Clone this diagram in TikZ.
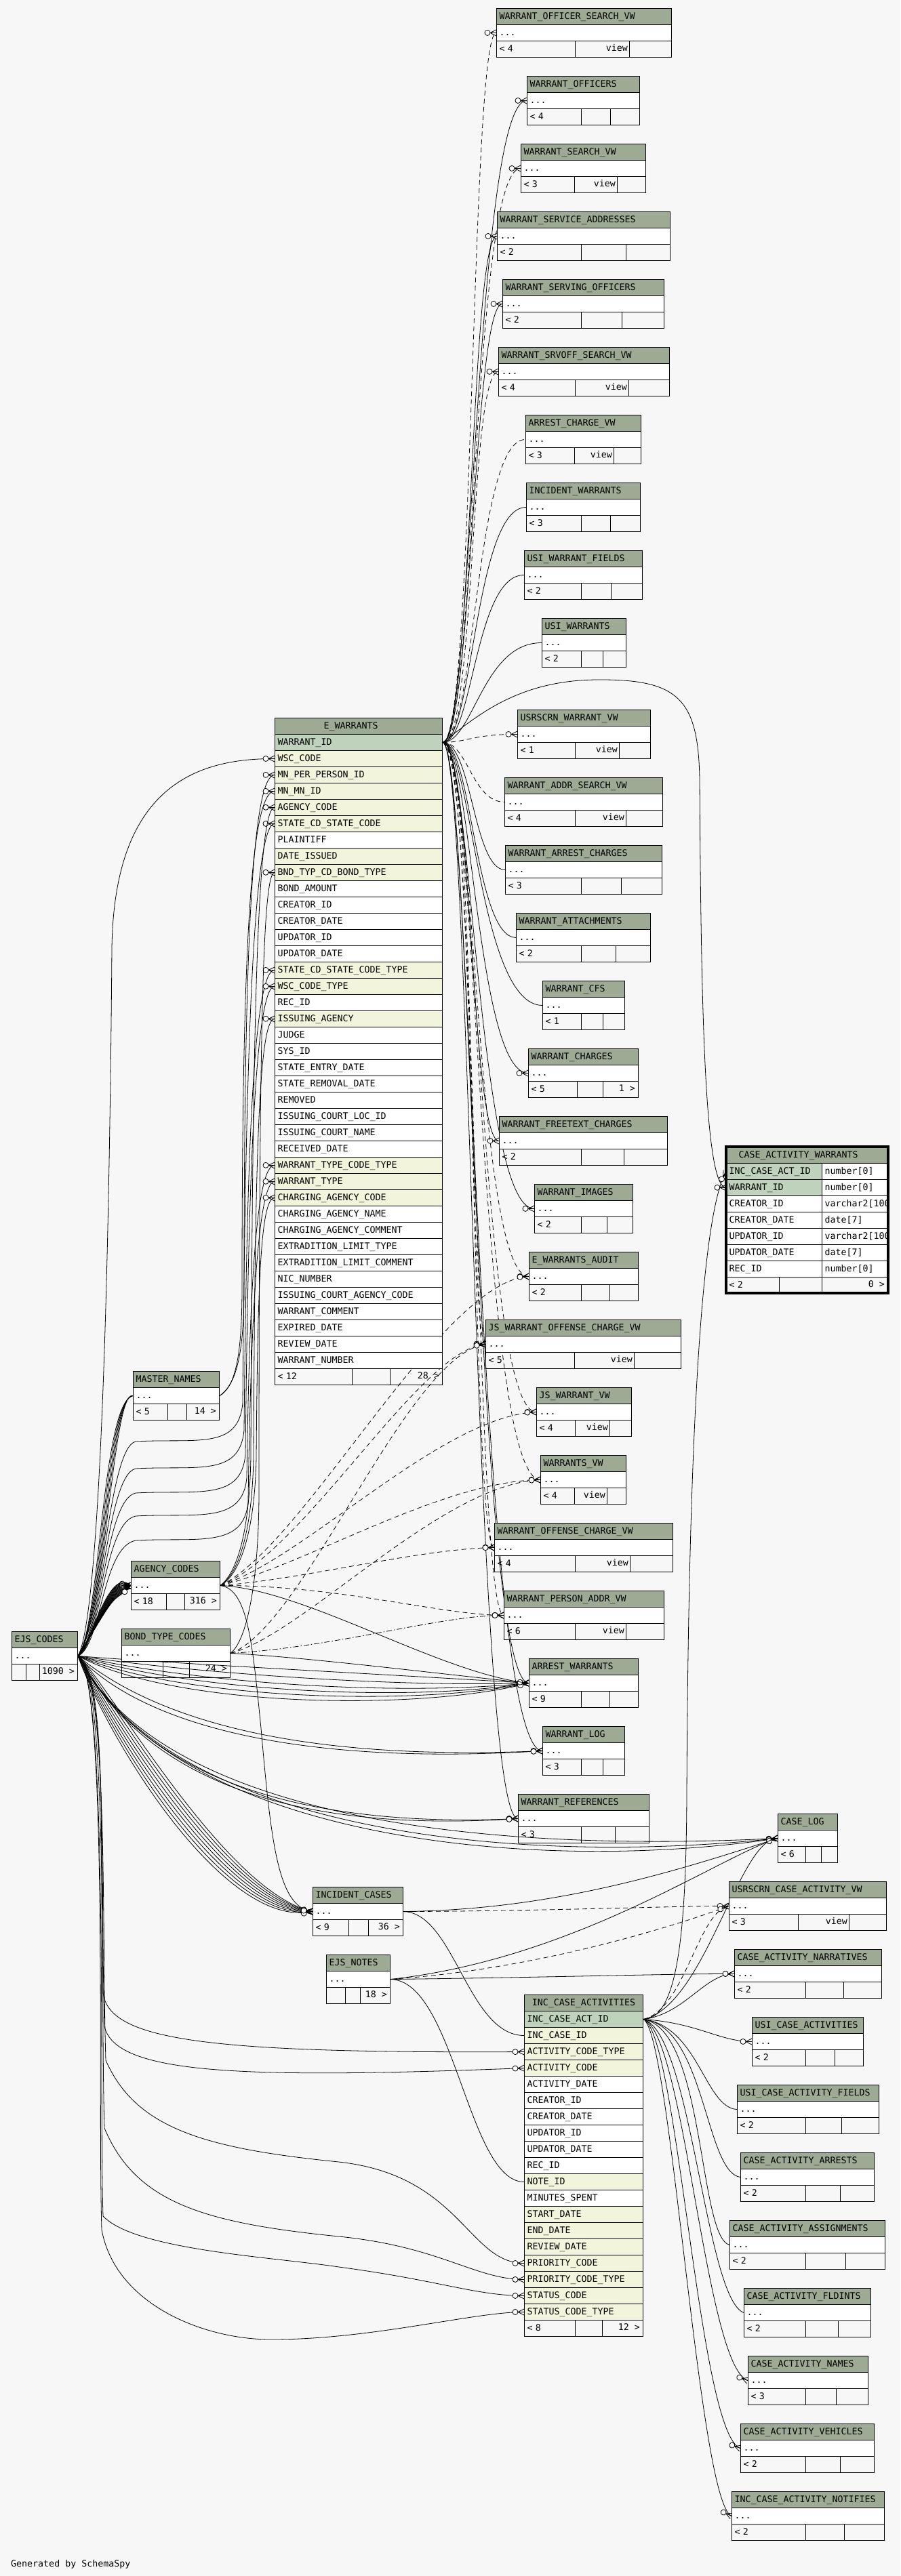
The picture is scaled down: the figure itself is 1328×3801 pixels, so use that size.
\documentclass[tikz,border=0pt]{standalone}
\usepackage{fontspec}
\setmonofont{DejaVu Sans Mono}
\usetikzlibrary{decorations.markings}

\definecolor{paper}{HTML}{F7F7F7}
\definecolor{hdrgreen}{HTML}{9DAA94}
\definecolor{keygreen}{HTML}{BFD2BB}
\definecolor{fkyellow}{HTML}{F2F4DC}

\pgfdeclarelayer{paperlayer}
\pgfdeclarelayer{links}
\pgfsetlayers{paperlayer,links,main}

\tikzset{
  cellfont/.style={font=\ttfamily\fontsize{13.3}{15}\selectfont},
  cell/.style={cellfont, draw=black, line width=1pt, anchor=north west, align=left,
    inner xsep=4pt, inner ysep=6pt, text height=9.6pt, text depth=2.4pt},
  hdrcell/.style={cell, fill=hdrgreen},
  pkcell/.style={cell, fill=keygreen},
  fkcell/.style={cell, fill=fkyellow},
  colcell/.style={cell, fill=white},
  footcell/.style={cell, fill=none},
  ewcol/.style={text width=239pt},
  icacol/.style={text width=167pt},
  tagtext/.style={cellfont, inner sep=0pt, text height=9.6pt, text depth=2.4pt},
  manyend/.style={postaction={decorate, decoration={markings, mark=at position 1 with {
      \draw[solid, line width=0.8pt] (-9pt,0pt) -- (0pt,4.5pt) (-9pt,0pt) -- (0pt,-4.5pt) (-9pt,0pt) -- (0pt,0pt);
      \draw[solid, line width=0.8pt, fill=white] (-13pt,0pt) circle (4pt);}}}},
  fk/.style={draw, line width=0.8pt, manyend},
  implied/.style={fk, dash pattern=on 7pt off 5pt},
  impliedalt/.style={fk, dash pattern=on 8pt off 3pt on 1.5pt off 3pt}
}

% name, left, top, right, divider, divider, title, footer
\newcommand{\smalltbl}[8]{%
  \pgfmathsetmacro{\tblwd}{#4-#2-8}%
  \node[hdrcell, text width=\tblwd pt] (#1-h) at (#2,#3) {#7};
  \node[colcell, text width=\tblwd pt] (#1) at (#2,#3+24) {...};
  \node[footcell, text width=\tblwd pt] (#1-f) at (#2,#3+48) {#8};
  \draw[line width=1pt] (#5,#3+48) -- (#5,#3+72) (#6,#3+48) -- (#6,#3+72);
}
\newcommand{\viewtbl}[8]{%
  \smalltbl{#1}{#2}{#3}{#4}{#5}{#6}{#7}{#8}
  \node[tagtext, anchor=east] (#1-v) at (#6-2,#3+60) {view};
}

\begin{document}
\begin{tikzpicture}[x=1pt,y=-1pt]

    \begin{pgfonlayer}{paperlayer}
    \fill[paper] (0,0) rectangle (1328,3801);
    \end{pgfonlayer}
    \useasboundingbox (0,0) rectangle (1328,3801);

    %tables on the right of E_WARRANTS
    \viewtbl{wosv}{732}{12}{990}{848}{928}{WARRANT\_OFFICER\_SEARCH\_VW}{< 4}
    \smalltbl{wo}{777}{112}{943}{857}{900}{WARRANT\_OFFICERS}{< 4}
    \viewtbl{wsv}{768}{212}{952}{847}{910}{WARRANT\_SEARCH\_VW}{< 3}
    \smalltbl{wsa}{733}{312}{988}{857}{923}{WARRANT\_SERVICE\_ADDRESSES}{< 2}
    \smalltbl{wso}{741}{412}{979}{857}{917}{WARRANT\_SERVING\_OFFICERS}{< 2}
    \viewtbl{wssv}{735}{512}{987}{848}{927}{WARRANT\_SRVOFF\_SEARCH\_VW}{< 4}
    \viewtbl{acv}{775}{612}{945}{847}{905}{ARREST\_CHARGE\_VW}{< 3}
    \smalltbl{iw}{776}{712}{944}{857}{900}{INCIDENT\_WARRANTS}{< 3}
    \smalltbl{uwf}{773}{812}{947}{857}{901}{USI\_WARRANT\_FIELDS}{< 2}
    \smalltbl{uw}{799}{912}{923}{857}{889}{USI\_WARRANTS}{< 2}
    \viewtbl{uwv}{763}{1047}{959}{848}{913}{USRSCRN\_WARRANT\_VW}{< 1}
    \viewtbl{wasv}{744}{1147}{977}{848}{923}{WARRANT\_ADDR\_SEARCH\_VW}{< 4}
    \smalltbl{wac}{745}{1247}{976}{857}{916}{WARRANT\_ARREST\_CHARGES}{< 3}
    \smalltbl{wat}{761}{1347}{959}{857}{908}{WARRANT\_ATTACHMENTS}{< 2}
    \smalltbl{wcfs}{800}{1447}{921}{857}{889}{WARRANT\_CFS}{< 1}
    \smalltbl{wch}{779}{1547}{941}{851}{889}{WARRANT\_CHARGES}{< 5}
    \node[tagtext, anchor=east] (wch-n) at (937,1607) {1 >};
    \smalltbl{wfc}{736}{1647}{984}{857}{920}{WARRANT\_FREETEXT\_CHARGES}{< 2}
    \smalltbl{wim}{788}{1747}{933}{857}{895}{WARRANT\_IMAGES}{< 2}
    \smalltbl{ewa}{780}{1847}{941}{857}{899}{E\_WARRANTS\_AUDIT}{< 2}
    \viewtbl{jswoc}{716}{1947}{1004}{847}{935}{JS\_WARRANT\_OFFENSE\_CHARGE\_VW}{< 5}
    \viewtbl{jsw}{791}{2047}{931}{848}{899}{JS\_WARRANT\_VW}{< 4}
    \viewtbl{wvw}{797}{2147}{923}{847}{895}{WARRANTS\_VW}{< 4}
    \viewtbl{wocv}{729}{2247}{992}{848}{929}{WARRANT\_OFFENSE\_CHARGE\_VW}{< 4}
    \viewtbl{wpav}{743}{2347}{979}{848}{923}{WARRANT\_PERSON\_ADDR\_VW}{< 6}
    \smalltbl{aw}{780}{2447}{941}{857}{899}{ARREST\_WARRANTS}{< 9}
    \smalltbl{wl}{800}{2547}{921}{857}{889}{WARRANT\_LOG}{< 3}
    \smalltbl{wr}{764}{2647}{957}{857}{907}{WARRANT\_REFERENCES}{< 3}

    %code tables on the left
    \smalltbl{mn}{196}{2023}{323}{247}{275}{MASTER\_NAMES}{< 5}
    \node[tagtext, anchor=east] (mn-n) at (319,2083) {14 >};
    \smalltbl{ac}{193}{2303}{324}{245}{272}{AGENCY\_CODES}{< 18}
    \node[tagtext, anchor=east] (ac-n) at (320,2363) {316 >};
    \smalltbl{ejs}{17}{2407}{114}{38}{58}{EJS\_CODES}{}
    \node[tagtext, anchor=east] (ejs-n) at (110,2467) {1090 >};
    \smalltbl{btc}{179}{2403}{339}{240}{279}{BOND\_TYPE\_CODES}{}
    \node[tagtext, anchor=east] (btc-n) at (335,2463) {24 >};
    \smalltbl{ic}{461}{2784}{594}{514}{543}{INCIDENT\_CASES}{< 9}
    \node[tagtext, anchor=east] (ic-n) at (590,2844) {36 >};
    \smalltbl{notes}{481}{2884}{575}{509}{531}{EJS\_NOTES}{}
    \node[tagtext, anchor=east] (notes-n) at (571,2944) {18 >};

    %tables below right
    \smalltbl{clog}{1147}{2676}{1235}{1188}{1211}{CASE\_LOG}{< 6}
    \viewtbl{ucav}{1075}{2776}{1307}{1177}{1252}{USRSCRN\_CASE\_ACTIVITY\_VW}{< 3}
    \smalltbl{cnar}{1083}{2876}{1300}{1188}{1244}{CASE\_ACTIVITY\_NARRATIVES}{< 2}
    \smalltbl{uca}{1109}{2976}{1273}{1188}{1231}{USI\_CASE\_ACTIVITIES}{< 2}
    \smalltbl{ucaf}{1087}{3076}{1296}{1188}{1241}{USI\_CASE\_ACTIVITY\_FIELDS}{< 2}
    \smalltbl{carr}{1092}{3176}{1289}{1188}{1239}{CASE\_ACTIVITY\_ARRESTS}{< 2}
    \smalltbl{casg}{1076}{3276}{1305}{1188}{1247}{CASE\_ACTIVITY\_ASSIGNMENTS}{< 2}
    \smalltbl{cfld}{1097}{3376}{1284}{1188}{1236}{CASE\_ACTIVITY\_FLDINTS}{< 2}
    \smalltbl{cnam}{1103}{3476}{1280}{1188}{1233}{CASE\_ACTIVITY\_NAMES}{< 3}
    \smalltbl{cveh}{1092}{3576}{1289}{1188}{1239}{CASE\_ACTIVITY\_VEHICLES}{< 2}
    \smalltbl{cnot}{1079}{3676}{1304}{1188}{1245}{INC\_CASE\_ACTIVITY\_NOTIFIES}{< 2}

    %E_WARRANTS with all its columns
    \node[hdrcell, ewcol] (ew-h) at (405,1059) {\hspace*{68pt}E\_WARRANTS};
    \node[pkcell, ewcol] (ew-id) at (405,1083) {WARRANT\_ID};
    \node[fkcell, ewcol] (ew-wsc) at (405,1107) {WSC\_CODE};
    \node[fkcell, ewcol] (ew-mnper) at (405,1131) {MN\_PER\_PERSON\_ID};
    \node[fkcell, ewcol] (ew-mnmn) at (405,1155) {MN\_MN\_ID};
    \node[fkcell, ewcol] (ew-agency) at (405,1179) {AGENCY\_CODE};
    \node[fkcell, ewcol] (ew-state) at (405,1203) {STATE\_CD\_STATE\_CODE};
    \node[colcell, ewcol] (ew-plaintiff) at (405,1227) {PLAINTIFF};
    \node[fkcell, ewcol] (ew-issued) at (405,1251) {DATE\_ISSUED};
    \node[fkcell, ewcol] (ew-bond) at (405,1275) {BND\_TYP\_CD\_BOND\_TYPE};
    \node[colcell, ewcol] (ew-amount) at (405,1299) {BOND\_AMOUNT};
    \node[colcell, ewcol] (ew-creator) at (405,1323) {CREATOR\_ID};
    \node[colcell, ewcol] (ew-cdate) at (405,1347) {CREATOR\_DATE};
    \node[colcell, ewcol] (ew-updator) at (405,1371) {UPDATOR\_ID};
    \node[colcell, ewcol] (ew-udate) at (405,1395) {UPDATOR\_DATE};
    \node[fkcell, ewcol] (ew-statetype) at (405,1419) {STATE\_CD\_STATE\_CODE\_TYPE};
    \node[fkcell, ewcol] (ew-wsctype) at (405,1443) {WSC\_CODE\_TYPE};
    \node[colcell, ewcol] (ew-rec) at (405,1467) {REC\_ID};
    \node[fkcell, ewcol] (ew-issuing) at (405,1491) {ISSUING\_AGENCY};
    \node[colcell, ewcol] (ew-judge) at (405,1515) {JUDGE};
    \node[colcell, ewcol] (ew-sys) at (405,1539) {SYS\_ID};
    \node[colcell, ewcol] (ew-entry) at (405,1563) {STATE\_ENTRY\_DATE};
    \node[colcell, ewcol] (ew-removal) at (405,1587) {STATE\_REMOVAL\_DATE};
    \node[colcell, ewcol] (ew-removed) at (405,1611) {REMOVED};
    \node[colcell, ewcol] (ew-courtloc) at (405,1635) {ISSUING\_COURT\_LOC\_ID};
    \node[colcell, ewcol] (ew-courtname) at (405,1659) {ISSUING\_COURT\_NAME};
    \node[colcell, ewcol] (ew-received) at (405,1683) {RECEIVED\_DATE};
    \node[fkcell, ewcol] (ew-wtypetype) at (405,1707) {WARRANT\_TYPE\_CODE\_TYPE};
    \node[fkcell, ewcol] (ew-wtype) at (405,1731) {WARRANT\_TYPE};
    \node[fkcell, ewcol] (ew-charging) at (405,1755) {CHARGING\_AGENCY\_CODE};
    \node[colcell, ewcol] (ew-chname) at (405,1779) {CHARGING\_AGENCY\_NAME};
    \node[colcell, ewcol] (ew-chcomment) at (405,1803) {CHARGING\_AGENCY\_COMMENT};
    \node[colcell, ewcol] (ew-extype) at (405,1827) {EXTRADITION\_LIMIT\_TYPE};
    \node[colcell, ewcol] (ew-excomment) at (405,1851) {EXTRADITION\_LIMIT\_COMMENT};
    \node[colcell, ewcol] (ew-nic) at (405,1875) {NIC\_NUMBER};
    \node[colcell, ewcol] (ew-courtagency) at (405,1899) {ISSUING\_COURT\_AGENCY\_CODE};
    \node[colcell, ewcol] (ew-comment) at (405,1923) {WARRANT\_COMMENT};
    \node[colcell, ewcol] (ew-expired) at (405,1947) {EXPIRED\_DATE};
    \node[colcell, ewcol] (ew-review) at (405,1971) {REVIEW\_DATE};
    \node[colcell, ewcol] (ew-number) at (405,1995) {WARRANT\_NUMBER};
    \node[footcell, ewcol] (ew-f) at (405,2019) {< 12};
    \draw[line width=1pt] (519,2019) -- (519,2043) (575,2019) -- (575,2043);
    \node[tagtext, anchor=east] (ew-n) at (648,2031) {28 >};

    %INC_CASE_ACTIVITIES
    \node[hdrcell, icacol, align=center] (ica-h) at (773,2943) {INC\_CASE\_ACTIVITIES};
    \node[pkcell, icacol] (ica-id) at (773,2967) {INC\_CASE\_ACT\_ID};
    \node[fkcell, icacol] (ica-case) at (773,2991) {INC\_CASE\_ID};
    \node[fkcell, icacol] (ica-acttype) at (773,3015) {ACTIVITY\_CODE\_TYPE};
    \node[fkcell, icacol] (ica-actcode) at (773,3039) {ACTIVITY\_CODE};
    \node[colcell, icacol] (ica-actdate) at (773,3063) {ACTIVITY\_DATE};
    \node[colcell, icacol] (ica-creator) at (773,3087) {CREATOR\_ID};
    \node[colcell, icacol] (ica-cdate) at (773,3111) {CREATOR\_DATE};
    \node[colcell, icacol] (ica-updator) at (773,3135) {UPDATOR\_ID};
    \node[colcell, icacol] (ica-udate) at (773,3159) {UPDATOR\_DATE};
    \node[colcell, icacol] (ica-rec) at (773,3183) {REC\_ID};
    \node[fkcell, icacol] (ica-note) at (773,3207) {NOTE\_ID};
    \node[colcell, icacol] (ica-minutes) at (773,3231) {MINUTES\_SPENT};
    \node[fkcell, icacol] (ica-start) at (773,3255) {START\_DATE};
    \node[fkcell, icacol] (ica-end) at (773,3279) {END\_DATE};
    \node[fkcell, icacol] (ica-review) at (773,3303) {REVIEW\_DATE};
    \node[fkcell, icacol] (ica-prio) at (773,3327) {PRIORITY\_CODE};
    \node[fkcell, icacol] (ica-priotype) at (773,3351) {PRIORITY\_CODE\_TYPE};
    \node[fkcell, icacol] (ica-status) at (773,3375) {STATUS\_CODE};
    \node[fkcell, icacol] (ica-stattype) at (773,3399) {STATUS\_CODE\_TYPE};
    \node[footcell, icacol] (ica-f) at (773,3423) {< 8};
    \draw[line width=1pt] (848,3423) -- (848,3447) (888,3423) -- (888,3447);
    \node[tagtext, anchor=east] (ica-n) at (944,3435) {12 >};

    %CASE_ACTIVITY_WARRANTS, the one with types
    \node[hdrcell, text width=231pt] (caw-h) at (1071,1692) {\hspace*{14pt}CASE\_ACTIVITY\_WARRANTS};
    \node[pkcell, text width=133pt] (caw-act) at (1071,1716) {INC\_CASE\_ACT\_ID};
    \node[pkcell, text width=133pt] (caw-wid) at (1071,1740) {WARRANT\_ID};
    \node[colcell, text width=133pt] (caw-creator) at (1071,1764) {CREATOR\_ID};
    \node[colcell, text width=133pt] (caw-cdate) at (1071,1788) {CREATOR\_DATE};
    \node[colcell, text width=133pt] (caw-updator) at (1071,1812) {UPDATOR\_ID};
    \node[colcell, text width=133pt] (caw-udate) at (1071,1836) {UPDATOR\_DATE};
    \node[colcell, text width=133pt] (caw-rec) at (1071,1860) {REC\_ID};
    \begin{scope}
    \clip (1212,1716) rectangle (1310,1884);
    \node[colcell, text width=90pt] (caw-t1) at (1212,1716) {number[0]};
    \node[colcell, text width=90pt] (caw-t2) at (1212,1740) {number[0]};
    \node[colcell, text width=90pt] (caw-t3) at (1212,1764) {varchar2[100]};
    \node[colcell, text width=90pt] (caw-t4) at (1212,1788) {date[7]};
    \node[colcell, text width=90pt] (caw-t5) at (1212,1812) {varchar2[100]};
    \node[colcell, text width=90pt] (caw-t6) at (1212,1836) {date[7]};
    \node[colcell, text width=90pt] (caw-t7) at (1212,1860) {number[0]};
    \end{scope}
    \node[footcell, text width=231pt] (caw-f) at (1071,1884) {< 2};
    \draw[line width=1pt] (1149,1884) -- (1149,1908) (1212,1884) -- (1212,1908);
    \node[tagtext, anchor=east] (caw-n) at (1305,1896) {0 >};
    \draw[line width=3.5pt] (1071,1692) rectangle (1310,1908);

    \node[tagtext, anchor=base west] (gen) at (16,3787) {Generated by SchemaSpy};

    \begin{pgfonlayer}{links}
    %WARRANT_ID out to the tables on the right
    \draw[implied] (ew-id.east) .. controls (700,1095) and (694,48) .. (wosv.west);
    \draw[fk] (ew-id.east) .. controls (698,1095) and (700,148) .. (wo.west);
    \draw[implied] (ew-id.east) .. controls (702,1095) and (696,248) .. (wsv.west);
    \draw[fk] (ew-id.east) .. controls (696,1095) and (694,348) .. (wsa.west);
    \draw[fk] (ew-id.east) .. controls (696,1095) and (698,448) .. (wso.west);
    \draw[implied] (ew-id.east) .. controls (702,1095) and (692,548) .. (wssv.west);
    \draw[implied] (ew-id.east) .. controls (702,1095) and (700,648) .. (acv.west);
    \draw[fk] (ew-id.east) .. controls (698,1095) and (700,748) .. (iw.west);
    \draw[fk] (ew-id.east) .. controls (698,1095) and (700,848) .. (uwf.west);
    \draw[fk] (ew-id.east) .. controls (698,1095) and (712,948) .. (uw.west);
    \draw[implied] (ew-id.east) .. controls (690,1095) and (700,1083) .. (uwv.west);
    \draw[implied] (ew-id.east) .. controls (690,1095) and (696,1183) .. (wasv.west);
    \draw[fk] (ew-id.east) .. controls (696,1095) and (698,1283) .. (wac.west);
    \draw[fk] (ew-id.east) .. controls (696,1095) and (700,1383) .. (wat.west);
    \draw[fk] (ew-id.east) .. controls (696,1095) and (705,1483) .. (wcfs.west);
    \draw[fk] (ew-id.east) .. controls (696,1095) and (702,1583) .. (wch.west);
    \draw[fk] (ew-id.east) .. controls (696,1095) and (694,1683) .. (wfc.west);
    \draw[fk] (ew-id.east) .. controls (696,1095) and (704,1783) .. (wim.west);
    \draw[implied] (ew-id.east) .. controls (702,1095) and (700,1883) .. (ewa.west);
    \draw[implied] (ew-id.east) .. controls (704,1095) and (690,1983) .. (jswoc.west);
    \draw[implied] (ew-id.east) .. controls (704,1095) and (706,2083) .. (jsw.west);
    \draw[implied] (ew-id.east) .. controls (704,1095) and (706,2183) .. (wvw.west);
    \draw[implied] (ew-id.east) .. controls (704,1095) and (694,2283) .. (wocv.west);
    \draw[implied] (ew-id.east) .. controls (704,1095) and (700,2383) .. (wpav.west);
    \draw[fk] (ew-id.east) .. controls (694,1095) and (702,2483) .. (aw.west);
    \draw[fk] (ew-id.east) .. controls (694,1095) and (706,2583) .. (wl.west);
    \draw[fk] (ew-id.east) .. controls (694,1095) and (700,2683) .. (wr.west);
    \draw[fk] (ew-id.east) .. controls (700,1060) and (760,1004) .. (880,1003) .. controls (1000,1002) and (1030,1030) .. (1032,1150) .. controls (1034,1500) and (1040,1752) .. (caw-wid.west);

    %EJS_CODES up to E_WARRANTS
    \draw[fk] (ejs.east) .. controls (150,2380) and (162,1800) .. (165,1400) .. controls (168,1160) and (290,1119) .. (ew-wsc.west);
    \draw[fk] (ejs.east) .. controls (150,2420) and (158,2137) .. (200,2127) .. controls (290,2122) and (352,2140) .. (358,2070) .. controls (362,1600) and (372,1215) .. (ew-state.west);
    \draw[fk] (ejs.east) .. controls (150,2422) and (156,2177) .. (200,2167) .. controls (290,2162) and (354,2180) .. (360,2110) .. controls (364,1700) and (374,1431) .. (ew-statetype.west);
    \draw[fk] (ejs.east) .. controls (150,2424) and (154,2213) .. (200,2203) .. controls (290,2198) and (356,2216) .. (362,2146) .. controls (366,1750) and (376,1455) .. (ew-wsctype.west);
    \draw[fk] (ejs.east) .. controls (150,2426) and (152,2247) .. (200,2237) .. controls (290,2232) and (358,2250) .. (364,2180) .. controls (368,1900) and (378,1719) .. (ew-wtypetype.west);
    \draw[fk] (ejs.east) .. controls (150,2428) and (150,2283) .. (200,2273) .. controls (290,2268) and (360,2286) .. (366,2216) .. controls (370,1950) and (380,1743) .. (ew-wtype.west);

    %the other code tables up to E_WARRANTS
    \draw[fk] (mn.east) .. controls (345,2045) and (360,2010) .. (360,1900) .. controls (360,1400) and (372,1143) .. (ew-mnper.west);
    \draw[fk] (mn.east) .. controls (345,2047) and (357,2010) .. (357,1900) .. controls (357,1400) and (370,1167) .. (ew-mnmn.west);
    \draw[fk] (ac.east) .. controls (350,2320) and (368,2260) .. (370,2150) .. controls (372,1500) and (380,1191) .. (ew-agency.west);
    \draw[fk] (ac.east) .. controls (352,2322) and (372,2260) .. (374,2150) .. controls (376,1700) and (382,1503) .. (ew-issuing.west);
    \draw[fk] (ac.east) .. controls (354,2324) and (376,2260) .. (378,2150) .. controls (380,1900) and (384,1767) .. (ew-charging.west);
    \draw[fk] (btc.east) .. controls (365,2420) and (382,2330) .. (382,2200) .. controls (382,1500) and (388,1287) .. (ew-bond.west);

    %EJS_CODES to MASTER_NAMES
    \draw[fk] (ejs.east) .. controls (148,2400) and (150,2070) .. (mn.west);
    \draw[fk] (ejs.east) .. controls (150,2398) and (154,2066) .. (mn.west);
    \draw[fk] (ejs.east) .. controls (152,2396) and (158,2062) .. (mn.west);
    \draw[fk] (ejs.east) .. controls (154,2394) and (162,2056) .. (mn.west);
    \draw[fk] (ejs.east) .. controls (156,2392) and (166,2050) .. (mn.west);

    %EJS_CODES to AGENCY_CODES
    \draw[fk] (ejs.east) .. controls (133,2430) and (160,2309) .. (ac.west);
    \draw[fk] (ejs.east) .. controls (136,2424) and (160,2313) .. (ac.west);
    \draw[fk] (ejs.east) .. controls (139,2418) and (160,2317) .. (ac.west);
    \draw[fk] (ejs.east) .. controls (142,2412) and (160,2321) .. (ac.west);
    \draw[fk] (ejs.east) .. controls (145,2406) and (160,2325) .. (ac.west);
    \draw[fk] (ejs.east) .. controls (148,2400) and (160,2329) .. (ac.west);
    \draw[fk] (ejs.east) .. controls (151,2394) and (160,2333) .. (ac.west);
    \draw[fk] (ejs.east) .. controls (154,2388) and (160,2337) .. (ac.west);
    \draw[fk] (ejs.east) .. controls (157,2382) and (160,2341) .. (ac.west);
    \draw[fk] (ejs.east) .. controls (160,2376) and (160,2345) .. (ac.west);
    \draw[fk] (ejs.east) .. controls (163,2370) and (160,2349) .. (ac.west);
    \draw[fk] (ejs.east) .. controls (166,2364) and (160,2353) .. (ac.west);
    \draw[fk] (ejs.east) .. controls (169,2358) and (160,2357) .. (ac.west);
    \draw[fk] (ejs.east) .. controls (172,2352) and (160,2361) .. (ac.west);
    \draw[fk] (ejs.east) .. controls (175,2346) and (160,2365) .. (ac.west);
    \draw[fk] (ejs.east) .. controls (178,2340) and (160,2369) .. (ac.west);
    \draw[fk] (ejs.east) .. controls (181,2334) and (160,2373) .. (ac.west);

    %to ARREST_WARRANTS, WARRANT_LOG, WARRANT_REFERENCES
    \draw[fk] (ejs.east) .. controls (260,2455) and (560,2470) .. (aw.west);
    \draw[fk] (ejs.east) .. controls (260,2465) and (560,2490) .. (aw.west);
    \draw[fk] (ejs.east) .. controls (260,2478) and (560,2505) .. (aw.west);
    \draw[fk] (ejs.east) .. controls (260,2490) and (580,2515) .. (aw.west);
    \draw[fk] (ejs.east) .. controls (260,2505) and (600,2520) .. (aw.west);
    \draw[fk] (ejs.east) .. controls (260,2520) and (620,2525) .. (aw.west);
    \draw[fk] (btc.east) .. controls (450,2445) and (650,2470) .. (aw.west);
    \draw[fk] (ac.east) .. controls (450,2345) and (650,2470) .. (aw.west);
    \draw[fk] (ejs.east) .. controls (220,2530) and (420,2600) .. (wl.west);
    \draw[fk] (ejs.east) .. controls (210,2545) and (440,2606) .. (wl.west);
    \draw[fk] (ejs.east) .. controls (200,2600) and (400,2700) .. (wr.west);
    \draw[fk] (ejs.east) .. controls (210,2620) and (420,2706) .. (wr.west);

    %to CASE_LOG and INCIDENT_CASES
    \draw[fk] (ejs.east) .. controls (240,2680) and (700,2735) .. (clog.west);
    \draw[fk] (ejs.east) .. controls (250,2700) and (750,2755) .. (clog.west);
    \draw[fk] (ejs.east) .. controls (260,2720) and (800,2765) .. (clog.west);
    \draw[fk] (ejs.east) .. controls (158,2480) and (330,2792) .. (ic.west);
    \draw[fk] (ejs.east) .. controls (158,2492) and (330,2800) .. (ic.west);
    \draw[fk] (ejs.east) .. controls (158,2504) and (330,2808) .. (ic.west);
    \draw[fk] (ejs.east) .. controls (158,2516) and (330,2816) .. (ic.west);
    \draw[fk] (ejs.east) .. controls (158,2528) and (330,2824) .. (ic.west);
    \draw[fk] (ejs.east) .. controls (158,2540) and (330,2832) .. (ic.west);
    \draw[fk] (ejs.east) .. controls (158,2552) and (330,2840) .. (ic.west);
    \draw[fk] (ejs.east) .. controls (158,2564) and (330,2848) .. (ic.west);
    \draw[fk] (ac.east) .. controls (365,2345) and (372,2420) .. (385,2550) .. controls (400,2720) and (410,2815) .. (ic.west);

    %EJS_CODES down to INC_CASE_ACTIVITIES
    \draw[fk] (ejs.east) .. controls (160,2470) and (146,2740) .. (152,2940) .. controls (160,3010) and (300,3030) .. (ica-acttype.west);
    \draw[fk] (ejs.east) .. controls (160,2472) and (148,2790) .. (154,2990) .. controls (170,3060) and (350,3068) .. (ica-actcode.west);
    \draw[fk] (ejs.east) .. controls (160,2474) and (150,2840) .. (156,3040) .. controls (200,3140) and (300,3170) .. (500,3190) .. controls (680,3210) and (690,3339) .. (ica-prio.west);
    \draw[fk] (ejs.east) .. controls (160,2476) and (148,2940) .. (154,3140) .. controls (200,3250) and (300,3280) .. (500,3300) .. controls (650,3315) and (700,3363) .. (ica-priotype.west);
    \draw[fk] (ejs.east) .. controls (160,2478) and (146,3070) .. (152,3270) .. controls (200,3320) and (400,3330) .. (500,3345) .. controls (650,3365) and (700,3387) .. (ica-status.west);
    \draw[fk] (ejs.east) .. controls (160,2480) and (144,3090) .. (150,3290) .. controls (170,3400) and (300,3452) .. (400,3452) .. controls (550,3452) and (700,3411) .. (ica-stattype.west);
    \draw[fk] (ic.east) .. controls (670,2822) and (690,3003) .. (ica-case.west);
    \draw[fk] (notes.east) .. controls (670,2922) and (690,3219) .. (ica-note.west);

    %INCIDENT_CASES and EJS_NOTES to the right
    \draw[implied] (ic.east) .. controls (800,2820) and (1000,2812) .. (ucav.west);
    \draw[fk] (ic.east) .. controls (820,2818) and (1000,2760) .. (clog.west);
    \draw[fk] (notes.east) .. controls (800,2918) and (1000,2912) .. (cnar.west);
    \draw[fk] (notes.east) .. controls (850,2890) and (1060,2740) .. (clog.west);
    \draw[implied] (notes.east) .. controls (800,2905) and (1000,2840) .. (ucav.west);

    %INC_CASE_ACT_ID out to its children
    \draw[fk] (ica-id.east) .. controls (1000,2979) and (1012,2850) .. (1013,2650) .. controls (1015,2200) and (1030,1800) .. (caw-act.west);
    \draw[fk] (ica-id.east) .. controls (1040,2960) and (1090,2712) .. (clog.west);
    \draw[implied] (ica-id.east) .. controls (1010,2965) and (1030,2820) .. (ucav.west);
    \draw[fk] (ica-id.east) .. controls (1010,2972) and (1040,2912) .. (cnar.west);
    \draw[fk] (ica-id.east) .. controls (1030,2985) and (1060,3012) .. (uca.west);
    \draw[fk] (ica-id.east) .. controls (1030,2990) and (1040,3110) .. (ucaf.west);
    \draw[fk] (ica-id.east) .. controls (1040,2990) and (1040,3205) .. (carr.west);
    \draw[fk] (ica-id.east) .. controls (1040,2995) and (1030,3300) .. (casg.west);
    \draw[fk] (ica-id.east) .. controls (1020,3000) and (1040,3390) .. (cfld.west);
    \draw[fk] (ica-id.east) .. controls (1010,3000) and (1040,3490) .. (cnam.west);
    \draw[fk] (ica-id.east) .. controls (1000,3000) and (1030,3590) .. (cveh.west);
    \draw[fk] (ica-id.east) .. controls (990,3000) and (1030,3690) .. (cnot.west);

    %implied links of the views
    \draw[implied] (ac.east) .. controls (450,2280) and (650,1890) .. (ewa.west);
    \draw[implied] (ac.east) .. controls (450,2290) and (620,1990) .. (jswoc.west);
    \draw[implied] (ac.east) .. controls (450,2300) and (650,2090) .. (jsw.west);
    \draw[implied] (ac.east) .. controls (450,2310) and (650,2185) .. (wvw.west);
    \draw[implied] (ac.east) .. controls (450,2330) and (620,2285) .. (wocv.west);
    \draw[implied] (ac.east) .. controls (500,2339) and (650,2383) .. (wpav.west);
    \draw[implied] (btc.east) .. controls (450,2400) and (600,2000) .. (jswoc.west);
    \draw[implied] (btc.east) .. controls (450,2410) and (650,2190) .. (wvw.west);
    \draw[impliedalt] (btc.east) .. controls (500,2430) and (650,2383) .. (wpav.west);
    \end{pgfonlayer}

\end{tikzpicture}
\end{document}
